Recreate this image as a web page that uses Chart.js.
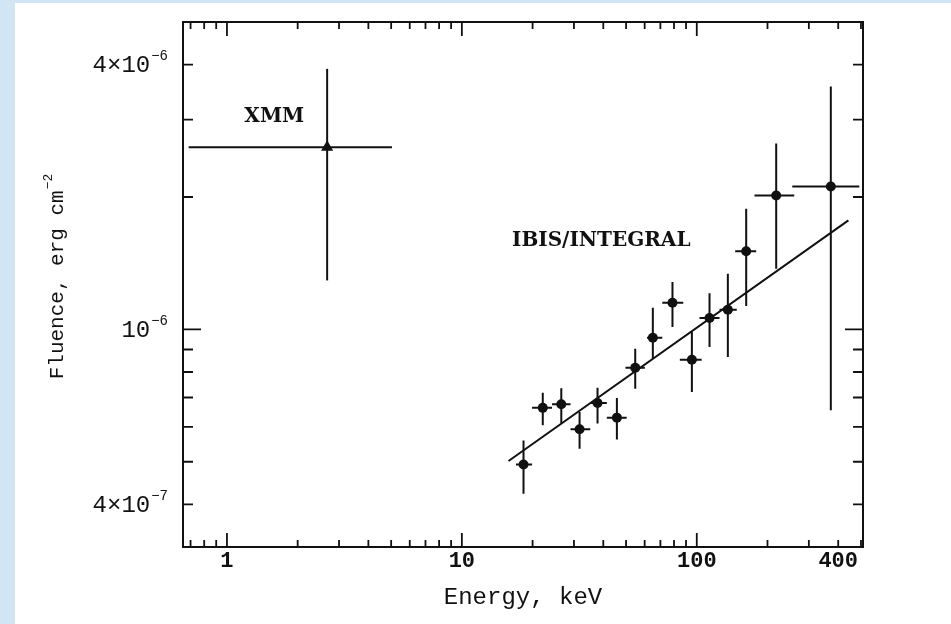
<!DOCTYPE html>
<html lang="en">

<head>
    <meta charset="UTF-8">
    <meta name="viewport" content="width=device-width, initial-scale=1.0">
    <title>Fluence vs Energy</title>
    <script src="https://cdn.jsdelivr.net/npm/chart.js"></script>
    <style>
        body {
            margin: 0;
            background-color: #d2e5f4;
        }

        .panel {
            position: absolute;
            left: 15px;
            top: 3px;
            right: 0;
            bottom: 0;
            background: #fff;
        }

        .chart-box {
            position: absolute;
            left: 0;
            top: 0;
            width: 936px;
            height: 621px;
        }
    </style>
</head>

<body>
    <div class="panel">
        <div class="chart-box">
            <canvas id="fluenceChart"></canvas>
        </div>
    </div>

    <script>
        // IBIS/INTEGRAL spectrum: energy (keV) and fluence (erg cm^-2)
        const ibisEnergy = [18.3, 22.1, 26.5, 31.7, 37.8, 45.7, 54.7, 65.0, 78.8, 95.3, 113.3, 135.6, 162.3, 217.8, 372];
        const ibisEnergyLo = [17.0, 19.9, 24.2, 29.0, 35.2, 41.4, 49.7, 61.4, 71.3, 84.7, 102.7, 125, 145.7, 176, 255];
        const ibisEnergyHi = [19.9, 24.2, 29.0, 35.2, 41.4, 50.3, 60.1, 71.3, 87.6, 104.9, 124.9, 148, 179, 260, 492];
        const ibisFluence = [4.93e-7, 6.63e-7, 6.76e-7, 5.93e-7, 6.80e-7, 6.30e-7, 8.18e-7, 9.57e-7, 1.15e-6, 8.53e-7, 1.061e-6, 1.108e-6, 1.506e-6, 2.016e-6, 2.113e-6];
        const ibisFluenceLo = [4.23e-7, 6.05e-7, 6.11e-7, 5.35e-7, 6.11e-7, 5.62e-7, 7.33e-7, 8.58e-7, 1.012e-6, 7.2e-7, 9.12e-7, 8.65e-7, 1.13e-6, 1.374e-6, 6.55e-7];
        const ibisFluenceHi = [5.59e-7, 7.18e-7, 7.35e-7, 6.49e-7, 7.37e-7, 6.98e-7, 9.04e-7, 1.12e-6, 1.281e-6, 9.86e-7, 1.209e-6, 1.339e-6, 1.88e-6, 2.645e-6, 3.566e-6];

        // XMM point
        const xmmEnergy = [2.67];
        const xmmEnergyLo = [0.687];
        const xmmEnergyHi = [5.04];
        const xmmFluence = [2.596e-6];
        const xmmFluenceLo = [1.292e-6];
        const xmmFluenceHi = [3.913e-6];

        // power-law fit (end points)
        const fitEnergy = [15.8, 442];
        const fitFluence = [5.02e-7, 1.769e-6];

        // axes
        const xLabelTicks = [1, 10, 100, 400];
        const xMajorTicks = [1, 10, 100];
        const xMinorTicks = [0.7, 0.8, 0.9, 2, 3, 4, 5, 6, 7, 8, 9, 20, 30, 40, 50, 60, 70, 80, 90, 200, 300, 400, 500];
        const yLabelTicks = [4e-7, 1e-6, 4e-6];
        const yLabelBase = ['4\u00d710', '10', '4\u00d710'];
        const yLabelExp = ['\u22127', '\u22126', '\u22126'];
        const yMajorTicks = [1e-6];
        const yMinorTicks = [4e-7, 5e-7, 6e-7, 7e-7, 8e-7, 9e-7, 2e-6, 3e-6, 4e-6];

        // text labels placed in data coordinates
        const notes = [
            { text: 'XMM', x: 1.59, y: 3.04e-6 },
            { text: 'IBIS/INTEGRAL', x: 39.2, y: 1.593e-6 }
        ];

        const ink = '#111';
        const mono = '"Liberation Mono", "DejaVu Sans Mono", monospace';

        // error bars as broken line segments
        function vertBars(xs, lo, hi) {
            const out = [];
            xs.forEach((x, i) => out.push({ x: x, y: lo[i] }, { x: x, y: hi[i] }, { x: x, y: null }));
            return out;
        }
        function horizBars(ys, lo, hi) {
            const out = [];
            ys.forEach((y, i) => out.push({ x: lo[i], y: y }, { x: hi[i], y: y }, { x: hi[i], y: null }));
            return out;
        }

        const segStyle = {
            showLine: true,
            borderColor: ink,
            borderWidth: 2,
            pointRadius: 0,
            spanGaps: false
        };

        // text with a raised exponent, right- or centre-aligned at (x, y)
        function drawPower(ctx, base, exp, x, y, size, align) {
            ctx.font = size + 'px ' + mono;
            const wb = ctx.measureText(base).width;
            ctx.font = Math.round(size * 0.6) + 'px ' + mono;
            const we = ctx.measureText(exp).width;
            const total = wb + we + 1;
            const left = align === 'right' ? x - total : x - total / 2;
            ctx.textAlign = 'left';
            ctx.textBaseline = 'middle';
            ctx.font = size + 'px ' + mono;
            ctx.fillText(base, left, y);
            ctx.font = Math.round(size * 0.6) + 'px ' + mono;
            ctx.fillText(exp, left + wb + 1, y - size * 0.38);
        }

        // frame, inward tick marks, y labels and text notes
        const framePlugin = {
            id: 'frame',
            afterDraw(chart) {
                const { ctx, chartArea: a, scales: { x, y } } = chart;
                ctx.save();
                ctx.strokeStyle = ink;
                ctx.lineWidth = 2;
                ctx.strokeRect(a.left, a.top, a.right - a.left, a.bottom - a.top);
                ctx.lineWidth = 1.8;
                ctx.beginPath();
                const xt = xMajorTicks.map(v => [v, 14]).concat(xMinorTicks.map(v => [v, 7]));
                xt.forEach(([v, len]) => {
                    const px = x.getPixelForValue(v);
                    ctx.moveTo(px, a.bottom); ctx.lineTo(px, a.bottom - len);
                    ctx.moveTo(px, a.top); ctx.lineTo(px, a.top + len);
                });
                const yt = yMajorTicks.map(v => [v, 18]).concat(yMinorTicks.map(v => [v, 10]));
                yt.forEach(([v, len]) => {
                    const py = y.getPixelForValue(v);
                    ctx.moveTo(a.left, py); ctx.lineTo(a.left + len, py);
                    ctx.moveTo(a.right, py); ctx.lineTo(a.right - len, py);
                });
                ctx.stroke();

                ctx.fillStyle = ink;
                yLabelTicks.forEach((v, i) => {
                    drawPower(ctx, yLabelBase[i], yLabelExp[i], a.left - 15, y.getPixelForValue(v) + 1, 24, 'right');
                });

                // y axis title, rotated
                ctx.save();
                ctx.translate(42, (a.top + a.bottom) / 2 - 8);
                ctx.rotate(-Math.PI / 2);
                drawPower(ctx, 'Fluence, erg cm', '\u22122', 0, 0, 21, 'center');
                ctx.restore();

                ctx.font = 'bold 20px "DejaVu Serif"';
                ctx.textAlign = 'center';
                ctx.textBaseline = 'middle';
                notes.forEach(n => ctx.fillText(n.text, x.getPixelForValue(n.x), y.getPixelForValue(n.y)));
                ctx.restore();
            }
        };

        const ctxFluence = document.getElementById('fluenceChart').getContext('2d');
        new Chart(ctxFluence, {
            type: 'scatter',
            data: {
                datasets: [
                    {
                        label: 'fit',
                        data: fitEnergy.map((e, i) => ({ x: e, y: fitFluence[i] })),
                        ...segStyle
                    },
                    {
                        label: 'IBIS y-err',
                        data: vertBars(ibisEnergy, ibisFluenceLo, ibisFluenceHi),
                        ...segStyle
                    },
                    {
                        label: 'IBIS x-err',
                        data: horizBars(ibisFluence, ibisEnergyLo, ibisEnergyHi),
                        ...segStyle
                    },
                    {
                        label: 'XMM y-err',
                        data: vertBars(xmmEnergy, xmmFluenceLo, xmmFluenceHi),
                        ...segStyle
                    },
                    {
                        label: 'XMM x-err',
                        data: horizBars(xmmFluence, xmmEnergyLo, xmmEnergyHi),
                        ...segStyle
                    },
                    {
                        label: 'IBIS/INTEGRAL',
                        data: ibisEnergy.map((e, i) => ({ x: e, y: ibisFluence[i] })),
                        pointRadius: 5,
                        pointBackgroundColor: ink,
                        pointBorderColor: ink,
                        pointBorderWidth: 0
                    },
                    {
                        label: 'XMM',
                        data: xmmEnergy.map((e, i) => ({ x: e, y: xmmFluence[i] })),
                        pointStyle: 'triangle',
                        pointRadius: 7,
                        pointBackgroundColor: ink,
                        pointBorderColor: ink,
                        pointBorderWidth: 0
                    }
                ]
            },
            options: {
                responsive: true,
                maintainAspectRatio: false,
                animation: false,
                layout: {
                    padding: { top: 19, right: 88, left: 0, bottom: 0 }
                },
                plugins: {
                    legend: { display: false },
                    tooltip: { enabled: false }
                },
                scales: {
                    x: {
                        type: 'logarithmic',
                        min: 0.65,
                        max: 510,
                        afterBuildTicks: s => { s.ticks = xLabelTicks.map(v => ({ value: v })); },
                        afterFit: s => { s.height = 77; s.paddingLeft = 0; s.paddingRight = 0; },
                        grid: { display: false, drawTicks: false },
                        border: { display: true, color: ink, width: 2 },
                        ticks: {
                            autoSkip: false,
                            maxRotation: 0,
                            padding: 1,
                            color: ink,
                            font: { family: mono, size: 22, weight: 'bold' },
                            callback: v => String(v)
                        },
                        title: {
                            display: true,
                            text: 'Energy, keV',
                            color: ink,
                            padding: { top: 0, bottom: 12 },
                            font: { family: mono, size: 24 }
                        }
                    },
                    y: {
                        type: 'logarithmic',
                        min: 3.2e-7,
                        max: 5e-6,
                        afterBuildTicks: s => { s.ticks = yLabelTicks.map(v => ({ value: v })); },
                        afterFit: s => { s.width = 168; s.paddingTop = 0; s.paddingBottom = 0; },
                        grid: { display: false, drawTicks: false },
                        border: { display: true, color: ink, width: 2 },
                        ticks: {
                            display: false
                        },
                        title: { display: false }
                    }
                }
            },
            plugins: [framePlugin]
        });
    </script>
</body>

</html>
